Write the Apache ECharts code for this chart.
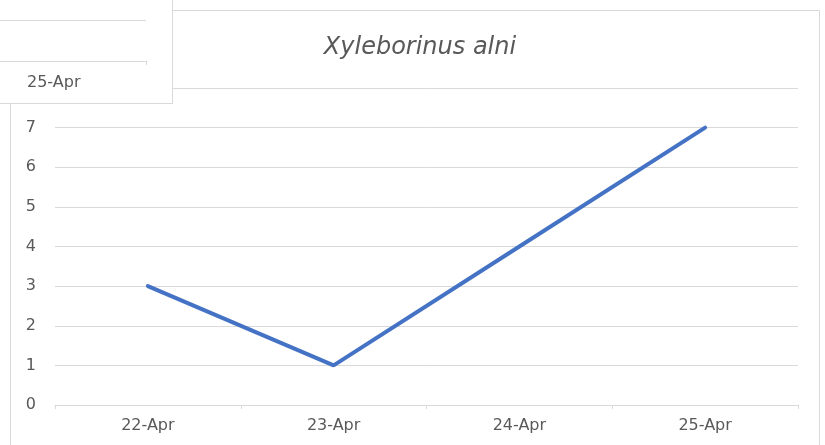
<!DOCTYPE html>
<html>
<head>
<meta charset="utf-8">
<script src="https://cdn.jsdelivr.net/npm/echarts@6/dist/echarts.min.js"></script>
<style>
  html, body { margin: 0; padding: 0; background: #fff; }
  #chart { width: 825px; height: 445px; }
</style>
</head>
<body>
<div id="chart"></div>
<script>
var dates = ['22-Apr', '23-Apr', '24-Apr', '25-Apr'];
var counts = [3, 1, 4, 7];

var chart = echarts.init(document.getElementById('chart'));
var grey = '#595959';
var lineGrey = '#d9d9d9';
var font = 'DejaVu Sans';

chart.setOption({
    animation: false,
    title: {
        text: 'Xyleborinus alni',
        left: 415,
        top: 31,
        textAlign: 'center',
        textStyle: {
            fontFamily: font,
            fontStyle: 'italic',
            fontWeight: 'normal',
            fontSize: 24,
            color: grey
        }
    },
    grid: { left: 55, right: 27, top: 88, bottom: 40 },
    xAxis: {
        type: 'category',
        data: dates,
        boundaryGap: true,
        axisLine: { lineStyle: { color: lineGrey, width: 1 } },
        axisTick: { show: true, length: 4, lineStyle: { color: lineGrey } },
        axisLabel: { color: grey, fontFamily: font, fontSize: 16, margin: 13 }
    },
    yAxis: {
        type: 'value',
        min: 0,
        max: 8,
        interval: 1,
        axisLine: { show: false },
        axisTick: { show: false },
        splitLine: { lineStyle: { color: lineGrey, width: 1 } },
        axisLabel: { color: grey, fontFamily: font, fontSize: 16, margin: 19,
            formatter: function (v) { return v === 8 ? '' : v; } }
    },
    series: [{
        type: 'line',
        data: counts,
        symbol: 'none',
        lineStyle: { color: '#4472c4', width: 4, cap: 'round' }
    }],
    graphic: [
        // chart border
        { type: 'rect', z: -1, shape: { x: 10.5, y: 10.5, width: 809, height: 460 },
          style: { fill: 'none', stroke: lineGrey, lineWidth: 1 } },
        // leftover box in the corner
        { type: 'rect', z: 100, shape: { x: -1, y: -1, width: 173.5, height: 104.5 },
          style: { fill: '#fff', stroke: lineGrey, lineWidth: 1 } },
        { type: 'line', z: 101, shape: { x1: 0, y1: 20.5, x2: 146, y2: 20.5 },
          style: { stroke: lineGrey, lineWidth: 1 } },
        { type: 'line', z: 101, shape: { x1: 0, y1: 61.5, x2: 146, y2: 61.5 },
          style: { stroke: lineGrey, lineWidth: 1 } },
        { type: 'line', z: 101, shape: { x1: 146.5, y1: 61, x2: 146.5, y2: 65 },
          style: { stroke: lineGrey, lineWidth: 1 } },
        { type: 'text', z: 101, left: 27, top: 75,
          style: { text: '25-Apr', fill: grey, font: '16px "DejaVu Sans"' } }
    ]
});
</script>
</body>
</html>
